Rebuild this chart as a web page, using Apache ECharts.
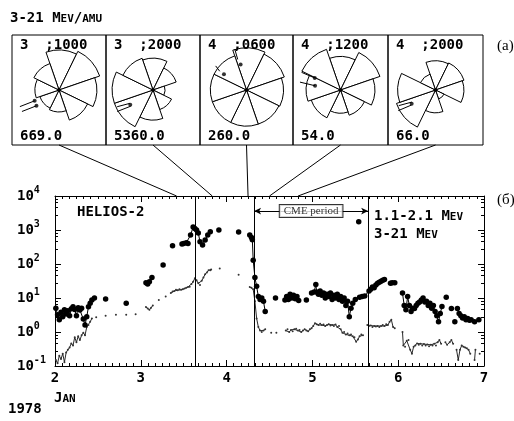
<!DOCTYPE html>
<html>
<head>
<meta charset="utf-8">
<script src="https://cdn.jsdelivr.net/npm/echarts@6/dist/echarts.min.js"></script>
<style>
  html, body { margin: 0; padding: 0; background: #fff; }
  #main { width: 514px; height: 421px; }
</style>
</head>
<body>
<div id="main"></div>
<script>
  const mono = 'DejaVu Sans Mono'
  const serif = 'Liberation Serif'

  // time axis, days of January 1978
  const dayTicks = [2, 3, 4, 5, 6, 7]
  // flux axis (log)
  const fluxMin = 0.1
  const fluxMax = 10000

  // 1.1-2.1 MeV, [day, flux]; null breaks the line
  const flux1 = [
    [2.01, 5.0], [2.03, 3.2], [2.05, 2.3], [2.07, 3.8], [2.09, 2.8], [2.11, 4.5], [2.13, 3.4], [2.15, 4.2],
    [2.17, 3.0], [2.19, 4.8], [2.21, 5.5], [2.23, 4.6], [2.25, 3.0], [2.27, 5.2], [2.29, 4.4], [2.31, 5.0],
    [2.33, 2.4], [2.35, 1.6], [2.37, 2.8], [2.39, 5.5], [2.41, 7.0], [2.43, 8.8], [2.46, 10], null,
    [2.59, 9.3], null, [2.83, 7], null,
    [3.06, 28], [3.08, 26], [3.10, 30], [3.13, 40], null,
    [3.26, 93], null, [3.37, 345], null,
    [3.48, 390], [3.50, 400], [3.53, 420], [3.55, 400], [3.58, 710], [3.61, 1230], [3.63, 1100], [3.65, 1000],
    [3.67, 820], [3.69, 450], [3.72, 360], [3.75, 510], [3.78, 710], [3.81, 890], null,
    [3.91, 1000], null, [4.14, 870], null,
    [4.27, 710], [4.29, 600], [4.30, 520], [4.31, 130], [4.33, 40], [4.35, 22], [4.37, 11], [4.39, 9],
    [4.41, 10], [4.43, 8], [4.45, 4], null,
    [4.57, 10], null,
    [4.68, 8.8], [4.70, 11], [4.72, 9], [4.74, 13], [4.76, 10], [4.78, 12], [4.80, 9.5], [4.82, 11], [4.84, 8.5], null,
    [4.93, 8.8], null,
    [4.99, 14], [5.02, 15], [5.04, 25], [5.05, 15], [5.07, 13], [5.09, 16], [5.11, 12], [5.13, 14], [5.15, 10],
    [5.17, 13], [5.19, 11], [5.21, 14], [5.23, 9], [5.25, 12], [5.27, 10], [5.29, 13], [5.31, 9], [5.33, 11],
    [5.35, 8], [5.37, 10], [5.39, 6], [5.41, 8], [5.43, 2.8], [5.45, 5], [5.47, 7], [5.50, 9], null,
    [5.54, 1750], null,
    [5.55, 10.5], [5.58, 11], [5.61, 11.5], [5.66, 16], [5.68, 18], [5.70, 21], [5.72, 20], [5.74, 24],
    [5.76, 27], [5.78, 29], [5.80, 31], [5.82, 33], [5.84, 35], null,
    [5.91, 27], [5.93, 28], [5.96, 28], null,
    [6.05, 14], [6.07, 6], [6.09, 4.5], [6.11, 11], [6.13, 6], [6.15, 4], [6.17, 5], [6.19, 4.9], [6.21, 6],
    [6.23, 7], [6.25, 7.6], [6.27, 8.8], [6.29, 10], [6.31, 7.6], [6.33, 8], [6.35, 6], [6.37, 7], [6.39, 5],
    [6.41, 6], [6.43, 4], [6.45, 3], [6.47, 2.0], [6.49, 3.5], [6.51, 5.6], null,
    [6.56, 10.6], null, [6.62, 4.9], null, [6.66, 2.0], null,
    [6.69, 4.9], [6.71, 3.5], [6.73, 3.0], [6.75, 2.6], [6.77, 2.8], [6.79, 2.3], [6.81, 2.5], [6.83, 2.2], [6.85, 2.3], null,
    [6.89, 2.0], null, [6.94, 2.3]
  ]

  // 3-21 MeV
  const flux2 = [
    [2.01, 0.15], [2.03, 0.12], [2.05, 0.2], [2.07, 0.16], [2.09, 0.23], [2.11, 0.13], [2.13, 0.25], [2.15, 0.3],
    [2.17, 0.35], [2.19, 0.46], [2.21, 0.4], [2.23, 0.7], [2.25, 0.5], [2.27, 0.75], [2.29, 0.58], [2.31, 0.8],
    [2.33, 0.95], [2.35, 0.8], [2.37, 1.4], [2.39, 1.6], [2.41, 2.0], [2.43, 2.5], null,
    [2.48, 2.7], null, [2.59, 3.0], null, [2.71, 3.2], null, [2.83, 3.2], null, [2.94, 3.3], null,
    [3.06, 5.4], [3.08, 4.9], [3.10, 4.5], [3.12, 5.2], [3.14, 6], null,
    [3.21, 8.7], null, [3.29, 11], null,
    [3.35, 14], [3.37, 15.4], [3.39, 16], [3.41, 17.5], [3.43, 17], [3.45, 18], [3.47, 17.5], [3.49, 18],
    [3.51, 19], [3.53, 20], [3.55, 21], [3.57, 21.5], [3.59, 26], [3.61, 30], [3.63, 38], [3.65, 33],
    [3.67, 27], [3.69, 24], [3.71, 32], [3.73, 40], [3.75, 50], [3.77, 56], [3.79, 65], [3.81, 66], [3.82, 69], null,
    [3.92, 74], null, [4.14, 48], null,
    [4.27, 21], [4.29, 20], [4.31, 18], [4.33, 8], [4.35, 2.5], [4.37, 1.4], [4.39, 1.1], [4.41, 1.0],
    [4.43, 1.1], [4.45, 1.2], null,
    [4.52, 0.95], null, [4.58, 0.95], null,
    [4.69, 1.1], [4.71, 1.2], [4.73, 1.0], [4.75, 1.15], [4.77, 1.05], [4.79, 1.2], [4.81, 1.25], [4.83, 1.1],
    [4.85, 1.15], [4.87, 1.0], [4.89, 1.1], [4.91, 1.2], [4.93, 1.1], [4.95, 1.05], [4.97, 1.2], [4.99, 1.3],
    [5.01, 1.5], [5.03, 1.8], [5.05, 1.7], [5.07, 1.6], [5.09, 1.75], [5.11, 1.6], [5.13, 1.65], [5.15, 1.5],
    [5.17, 1.6], [5.19, 1.7], [5.21, 1.55], [5.23, 1.6], [5.25, 1.5], [5.27, 1.65], [5.29, 1.4], [5.31, 1.5],
    [5.33, 1.2], [5.35, 0.95], [5.37, 1.0], [5.39, 0.85], [5.41, 0.9], [5.43, 0.8], [5.45, 0.85], [5.47, 0.75],
    [5.49, 0.7], [5.51, 0.52], [5.53, 0.6], [5.55, 0.75], [5.57, 0.85], [5.59, 0.8], null,
    [5.64, 1.6], [5.66, 1.5], [5.68, 1.55], [5.70, 1.4], [5.72, 1.5], [5.74, 1.45], [5.76, 1.5], [5.78, 1.4],
    [5.80, 1.5], [5.82, 1.6], [5.84, 1.5], [5.86, 1.7], [5.88, 1.6], [5.90, 2.0], [5.92, 2.3], [5.94, 1.4], [5.96, 1.3], null,
    [6.05, 1.0], [6.06, 0.4], [6.08, 0.37], [6.10, 0.55], [6.12, 0.58], [6.14, 0.3], [6.16, 0.23], [6.18, 0.37],
    [6.20, 0.4], [6.22, 0.46], [6.24, 0.42], [6.26, 0.45], [6.28, 0.4], [6.30, 0.44], [6.32, 0.4], [6.34, 0.43],
    [6.36, 0.38], [6.38, 0.42], [6.40, 0.4], [6.42, 0.45], [6.44, 0.4], [6.46, 0.5], [6.48, 0.58], [6.50, 0.45], null,
    [6.55, 0.5], [6.57, 0.42], [6.60, 0.5], [6.62, 0.58], [6.64, 0.45], null,
    [6.68, 0.3], [6.70, 0.15], [6.72, 0.3], [6.74, 0.4], [6.76, 0.37], [6.78, 0.35], [6.80, 0.33], [6.82, 0.3], [6.84, 0.23], null,
    [6.89, 0.15], [6.90, 0.3], null, [6.95, 0.23]
  ]

  // vertical marker lines and the CME period
  const markDays = [3.64, 4.32, 5.65]
  const cmeStart = 4.32
  const cmeEnd = 5.65
  const cmeLevel = 3600

  // angular distributions (panel a)
  const boxDays = [3.417, 3.833, 4.25, 4.5, 4.833]
  const boxNames = ['3  ;1000', '3  ;2000', '4  ;0600', '4  ;1200', '4  ;2000']
  const boxCounts = ['669.0', '5360.0', '260.0', '54.0', '66.0']
  // 8 sectors, clockwise starting with the top one
  const roses = [
    [0.93, 1.0, 0.88, 0.74, 0.51, 0.47, 0.56, 0.65],
    [0.74, 0.57, 0.28, 0.48, 0.70, 0.95, 0.95, 0.78],
    [0.98, 0.93, 0.86, 0.84, 0.84, 0.84, 0.84, 0.84],
    [0.78, 0.97, 0.80, 0.62, 0.54, 0.72, 0.80, 1.0],
    [0.68, 0.70, 0.66, 0.22, 0.53, 0.96, 0.88, 0.39]
  ]
  // field direction marks, [r, angle deg]
  const fieldLines = [
    [[[0.99, 203], [0.62, 204]], [[1.01, 210], [0.64, 215]]],
    [[[0.92, 205], [0.62, 210]], [[0.97, 211], [0.64, 216]]],
    [[[0.99, 106], [0.74, 106]], [[0.91, 142], [0.76, 145]]],
    [[[1.0, 155.6], [0.66, 155]], [[0.96, 169], [0.6, 170.5]]],
    [[[0.93, 203], [0.62, 207]], [[0.99, 209], [0.66, 212]]]
  ]
  const fieldDots = [
    [[0.62, 204], [0.64, 215]],
    [[0.63, 213]],
    [[0.61, 103], [0.64, 145]],
    [[0.66, 155], [0.6, 170.5]],
    [[0.64, 210]]
  ]

  const boxEdges = [12, 106, 200, 293, 388, 483]
  const roseR = 43
  const roseY = 90

  const myChart = echarts.init(document.getElementById('main'))

  function boxCenter (i) {
    return (boxEdges[i] + boxEdges[i + 1]) / 2
  }

  function getOption () {
    let tickStyle = {show: true, inside: true, length: 6, lineStyle: {color: '#000', width: 1}}
    let minorStyle = {show: true, length: 3, lineStyle: {color: '#000', width: 1}}
    let option = {
      animation: false,
      backgroundColor: '#fff',
      grid: {left: 55, right: 30, top: 196, bottom: 55},
      xAxis: [
        {
          type: 'value', min: dayTicks[0], max: dayTicks[dayTicks.length - 1], interval: 1,
          axisLine: {lineStyle: {color: '#000', width: 1}},
          axisTick: tickStyle,
          minorTick: Object.assign({splitNumber: 12}, minorStyle),
          splitLine: {show: false},
          axisLabel: {color: '#000', fontFamily: mono, fontWeight: 'bold', fontSize: 14, margin: 5}
        },
        {
          type: 'value', position: 'top', min: dayTicks[0], max: dayTicks[dayTicks.length - 1], interval: 1,
          axisLine: {lineStyle: {color: '#000', width: 1}},
          axisTick: tickStyle,
          minorTick: Object.assign({splitNumber: 12}, minorStyle),
          splitLine: {show: false},
          axisLabel: {show: false}
        }
      ],
      yAxis: [
        {
          type: 'log', logBase: 10, min: fluxMin, max: fluxMax,
          axisLine: {show: true, lineStyle: {color: '#000', width: 1}},
          axisTick: tickStyle,
          minorTick: Object.assign({splitNumber: 5}, minorStyle),
          splitLine: {show: false},
          axisLabel: {
            align: 'left',
            margin: 38,
            formatter: function (v) {
              return '{b|10}{s|' + Math.round(Math.log10(v)) + '}'
            },
            rich: {
              b: {fontFamily: mono, fontWeight: 'bold', fontSize: 14, color: '#000', lineHeight: 22},
              s: {fontFamily: mono, fontWeight: 'bold', fontSize: 10, color: '#000', lineHeight: 10, verticalAlign: 'top'}
            }
          }
        },
        {
          type: 'log', logBase: 10, min: fluxMin, max: fluxMax, position: 'right',
          axisLine: {show: true, lineStyle: {color: '#000', width: 1}},
          axisTick: tickStyle,
          minorTick: Object.assign({splitNumber: 5}, minorStyle),
          splitLine: {show: false},
          axisLabel: {show: false}
        }
      ],
      polar: [],
      angleAxis: [],
      radiusAxis: [],
      series: [
        {
          name: '3-21 MeV',
          type: 'line',
          data: flux2,
          symbol: 'circle',
          symbolSize: 2,
          showAllSymbol: true,
          connectNulls: false,
          itemStyle: {color: '#333'},
          lineStyle: {color: '#111', width: 0.9}
        },
        {
          name: '1.1-2.1 MeV',
          type: 'line',
          data: flux1,
          symbol: 'circle',
          symbolSize: 5.5,
          showAllSymbol: true,
          connectNulls: false,
          itemStyle: {color: '#000'},
          lineStyle: {color: '#000', width: 1},
          markLine: {
            silent: true,
            symbol: 'none',
            label: {show: false},
            lineStyle: {color: '#000', width: 1, type: 'solid'},
            data: markDays.map(function (d) { return {xAxis: d} })
          }
        },
        {
          // CME period bracket
          type: 'scatter',
          data: [[(cmeStart + cmeEnd) / 2, cmeLevel]],
          symbolSize: 0,
          z: 5,
          label: {
            show: true,
            position: 'inside',
            formatter: 'CME period',
            fontFamily: serif,
            fontSize: 11,
            color: '#000',
            backgroundColor: '#fff',
            borderColor: '#000',
            borderWidth: 1,
            padding: [1, 4, 0, 4]
          },
          markLine: {
            silent: true,
            symbol: ['arrow', 'arrow'],
            symbolSize: [5, 7],
            label: {show: false},
            lineStyle: {color: '#000', width: 1, type: 'solid'},
            data: [[{coord: [cmeStart, cmeLevel]}, {coord: [cmeEnd, cmeLevel]}]]
          }
        }
      ]
    }

    for (let i = 0; i < roses.length; i++) {
      let cx = boxCenter(i)
      let maxV = Math.max.apply(null, roses[i])
      option.polar.push({center: [cx, roseY], radius: roseR})
      option.angleAxis.push({polarIndex: i, type: 'value', min: 0, max: 360, startAngle: 0, clockwise: false, show: false})
      option.radiusAxis.push({polarIndex: i, type: 'value', min: 0, max: 1, show: false})
      option.series.push({
        type: 'pie',
        roseType: 'area',
        center: [cx, roseY],
        radius: [0, roseR * maxV],
        startAngle: 109,
        clockwise: true,
        silent: true,
        label: {show: false},
        labelLine: {show: false},
        itemStyle: {color: '#fff', borderColor: '#000', borderWidth: 1},
        data: roses[i]
      })
      let segs = []
      fieldLines[i].forEach(function (s, k) {
        if (k > 0) segs.push(null)
        segs.push(s[0], s[1])
      })
      option.series.push({
        type: 'line',
        coordinateSystem: 'polar',
        polarIndex: i,
        clip: false,
        symbol: 'none',
        z: 3,
        lineStyle: {color: '#000', width: 1},
        data: segs
      })
      option.series.push({
        type: 'scatter',
        coordinateSystem: 'polar',
        polarIndex: i,
        clip: false,
        symbolSize: 4,
        z: 4,
        itemStyle: {color: '#000'},
        data: [[0, 0]].concat(fieldDots[i])
      })
    }
    return option
  }

  function textEl (x, y, text, size, family, weight) {
    return {
      type: 'text',
      x: x,
      y: y,
      z: 10,
      style: {
        text: text,
        fontFamily: family,
        fontSize: size,
        fontWeight: weight || 'normal',
        fill: '#000',
        verticalAlign: 'middle',
        rich: {s: {fontFamily: family, fontWeight: weight || 'normal', fontSize: size - 3, fill: '#000', verticalAlign: 'bottom'}}
      }
    }
  }

  function getGraphic () {
    let g = []
    g.push(textEl(10, 18, '3-21 M{s|EV}/{s|AMU}', 14, mono, 'bold'))
    g.push(textEl(497, 46, '(a)', 15, serif))
    g.push(textEl(497, 200, '(б)', 15, serif))
    g.push(textEl(77, 212, 'HELIOS-2', 14, mono, 'bold'))
    g.push(textEl(374, 216, '1.1-2.1 M{s|EV}', 14, mono, 'bold'))
    g.push(textEl(374, 234, '3-21 M{s|EV}', 14, mono, 'bold'))
    g.push(textEl(54, 398, 'J{s|AN}', 14, mono, 'bold'))
    g.push(textEl(8, 409, '1978', 14, mono, 'bold'))
    let top = myChart.convertToPixel({yAxisIndex: 0}, fluxMax)
    for (let i = 0; i < boxNames.length; i++) {
      let x0 = boxEdges[i]
      let x1 = boxEdges[i + 1]
      g.push({
        type: 'rect',
        z: 1,
        shape: {x: x0, y: 35, width: x1 - x0, height: 110},
        style: {fill: 'none', stroke: '#000', lineWidth: 1}
      })
      g.push(textEl(x0 + 8, 45, boxNames[i], 14, mono, 'bold'))
      g.push(textEl(x0 + 8, 136, boxCounts[i], 14, mono, 'bold'))
      // connector from the panel to its time on the axis
      let px = myChart.convertToPixel({xAxisIndex: 0}, boxDays[i])
      g.push({
        type: 'line',
        z: 1,
        shape: {x1: boxCenter(i), y1: 145, x2: px, y2: top},
        style: {stroke: '#000', lineWidth: 1}
      })
    }
    return g
  }

  myChart.setOption(getOption())
  myChart.setOption({graphic: getGraphic()})
</script>
</body>
</html>
